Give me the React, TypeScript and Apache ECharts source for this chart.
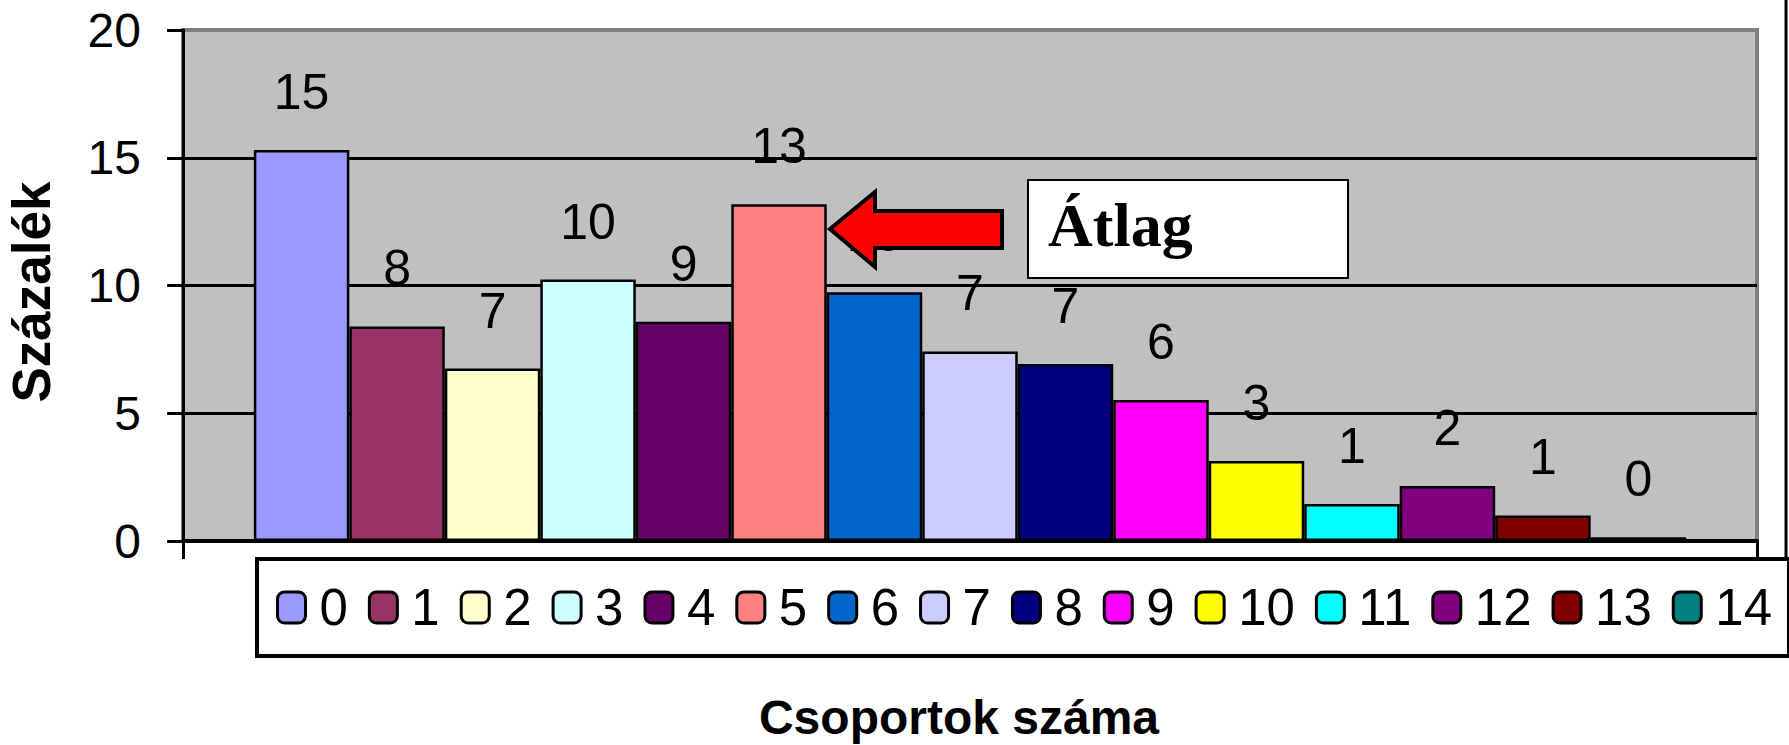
import React, { useEffect, useRef } from "react";
import * as echarts from "echarts";

const groupNames = ["0", "1", "2", "3", "4", "5", "6", "7", "8", "9", "10", "11", "12", "13", "14"];
const percentValues = [15.3, 8.4, 6.75, 10.23, 8.58, 13.18, 9.74, 7.42, 6.93, 5.52, 3.13, 1.45, 2.15, 1.0, 0.15];
const barColors = [
  "#9999FF", "#993366", "#FFFFCC", "#CCFFFF", "#660066",
  "#FF8080", "#0066CC", "#CCCCFF", "#000080", "#FF00FF",
  "#FFFF00", "#00FFFF", "#800080", "#800000", "#008080",
];
const yTicks = { min: 0, max: 20, interval: 5 };
const yTitle = "Százalék";
const xTitle = "Csoportok száma";
const annotationText = "Átlag";

const SANS = "'Liberation Sans', Arial, sans-serif";
const SERIF = "'Liberation Serif', 'Times New Roman', serif";

export default function App() {
  const ref = useRef<HTMLDivElement>(null);

  useEffect(() => {
    if (!ref.current) return;
    const chart = echarts.init(ref.current, undefined, { renderer: "svg" });

    const series = groupNames.map((name, i) => ({
      type: "bar",
      name,
      data: [percentValues[i]],
      barGap: "0%",
      barCategoryGap: "9%",
      itemStyle: { color: barColors[i], borderColor: "#000", borderWidth: 2.5 },
      label: {
        show: true,
        position: "top",
        distance: 33,
        color: "#000",
        fontSize: 50,
        fontFamily: SANS,
        formatter: (p: any) => String(Math.round(p.value)),
      },
      z: 2,
    }));

    chart.setOption({
      animation: false,
      backgroundColor: "#fff",
      grid: {
        left: 183,
        right: 32,
        top: 30,
        bottom: 204,
        show: true,
        backgroundColor: "#C0C0C0",
        borderColor: "#808080",
        borderWidth: 4,
        outerBoundsMode: "none",
      },
      legend: {
        data: groupNames,
        orient: "horizontal",
        left: 257,
        top: 559,
        width: 1600,
        padding: [23, 17, 23, 19],
        itemGap: 20,
        itemWidth: 28,
        itemHeight: 31,
        icon: "roundRect",
        itemStyle: { borderColor: "#000", borderWidth: 3 },
        backgroundColor: "#fff",
        borderColor: "#000",
        borderWidth: 4,
        selectedMode: false,
        textStyle: {
          color: "#000",
          fontSize: 51,
          lineHeight: 51,
          fontFamily: SANS,
          padding: [0, 0, 0, 9],
        },
      },
      xAxis: {
        type: "category",
        data: [""],
        boundaryGap: true,
        axisLine: { show: true, lineStyle: { color: "#000", width: 4 } },
        axisTick: { show: true, length: 18, lineStyle: { color: "#000", width: 3 } },
        axisLabel: { show: false },
        splitLine: { show: false },
      },
      yAxis: {
        type: "value",
        min: yTicks.min,
        max: yTicks.max,
        interval: yTicks.interval,
        axisLine: { show: true, lineStyle: { color: "#000", width: 3 } },
        axisTick: { show: true, length: 16, lineStyle: { color: "#000", width: 3 } },
        axisLabel: { color: "#000", fontSize: 48, fontFamily: SANS, margin: 42 },
        splitLine: { show: true, showMinLine: false, showMaxLine: false, lineStyle: { color: "#000", width: 3 } },
      },
      series,
      graphic: [
        {
          type: "text",
          x: 31,
          y: 292,
          rotation: Math.PI / 2,
          style: {
            text: yTitle,
            fill: "#000",
            fontSize: 53,
            fontWeight: "bold",
            fontFamily: SANS,
            align: "center",
            verticalAlign: "middle",
          },
        },
        {
          type: "text",
          x: 959,
          y: 717,
          style: {
            text: xTitle,
            fill: "#000",
            fontSize: 48,
            fontWeight: "bold",
            fontFamily: SANS,
            align: "center",
            verticalAlign: "middle",
          },
        },
        {
          type: "polygon",
          z: 100,
          shape: {
            points: [
              [830, 229], [875, 192], [875, 211], [1002, 211],
              [1002, 248], [875, 248], [875, 267],
            ],
          },
          style: { fill: "#FF0000", stroke: "#000", lineWidth: 4, lineJoin: "miter" },
        },
        {
          type: "rect",
          z: 100,
          shape: { x: 1028, y: 180, width: 320, height: 98 },
          style: { fill: "#fff", stroke: "#000", lineWidth: 2 },
        },
        {
          type: "text",
          z: 101,
          x: 1048,
          y: 225,
          style: {
            text: annotationText,
            fill: "#000",
            fontSize: 62,
            fontWeight: "bold",
            fontFamily: SERIF,
            align: "left",
            verticalAlign: "middle",
          },
        },
        {
          type: "line",
          z: 100,
          shape: { x1: 1786, y1: 0, x2: 1786, y2: 560 },
          style: { stroke: "#000", lineWidth: 3 },
        },
      ],
    });

    return () => chart.dispose();
  }, []);

  return (
    <div
      ref={ref}
      style={{ position: "fixed", left: 0, top: 0, width: 1789, height: 745, background: "#fff" }}
    />
  );
}
